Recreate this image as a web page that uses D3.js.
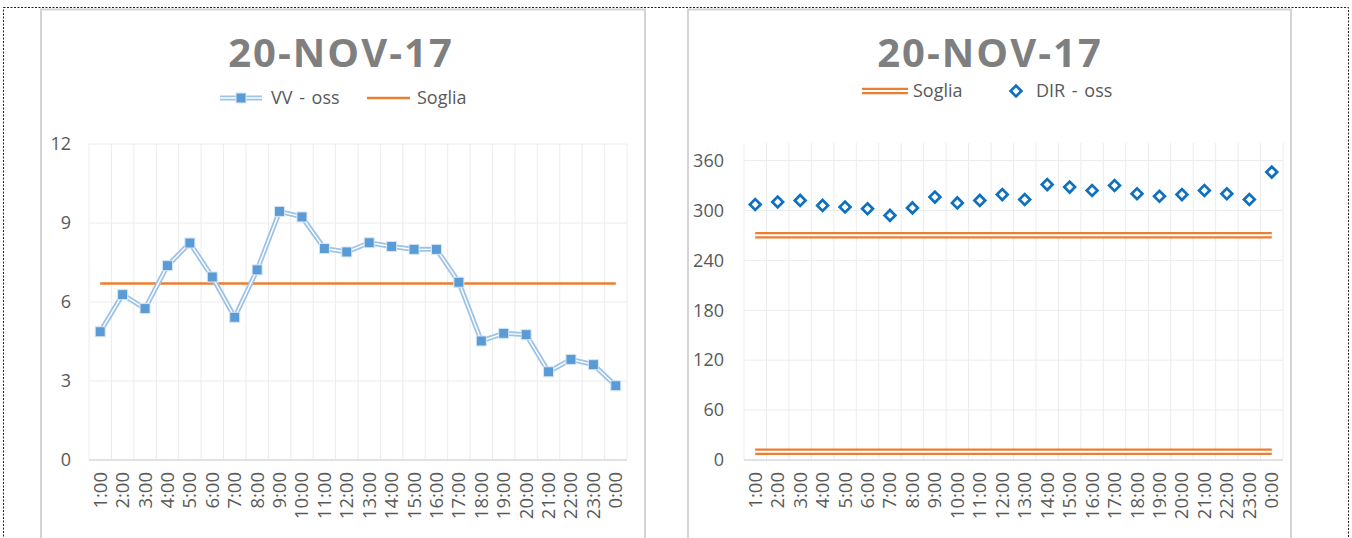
<!DOCTYPE html>
<html>
<head>
<meta charset="utf-8">
<script src="https://cdn.jsdelivr.net/npm/d3@7"></script>
<style>
  html, body { margin: 0; padding: 0; background: #fff; }
  svg { display: block; font-family: "Open Sans", sans-serif; }
</style>
</head>
<body>
<svg id="chart" width="1352" height="538"></svg>
<script>
// ---------- data ----------
const hours = ["1:00","2:00","3:00","4:00","5:00","6:00","7:00","8:00","9:00","10:00","11:00","12:00",
               "13:00","14:00","15:00","16:00","17:00","18:00","19:00","20:00","21:00","22:00","23:00","0:00"];
const vvOss = [4.87,6.28,5.75,7.38,8.24,6.95,5.42,7.22,9.44,9.23,8.03,7.90,
               8.25,8.11,8.00,8.00,6.75,4.52,4.81,4.76,3.35,3.82,3.62,2.82];
const sogliaVV = 6.7;
const dirOss = [307,310,312,306,304,302,294,303,316,309,312,319,
                313,331,328,324,330,320,317,319,324,320,313,346];
const sogliaDir = [270, 10];
const yTicksVV = [0,3,6,9,12];
const yTicksDir = [0,60,120,180,240,300,360];
const chartTitle = "20-NOV-17";
const legendVV = ["VV - oss", "Soglia"];
const legendDir = ["Soglia", "DIR - oss"];

// ---------- styles ----------
const textCol = "#595959";
const gridCol = "#ececec";
const blueLine = "#9dc3e6";
const blueMark = "#5b9bd5";
const orange = "#ed7d31";
const dirBlue = "#0f70c0";

const svg = d3.select("#chart");

// outer dashed frame
svg.append("rect").attr("x", 3.5).attr("y", 7.5).attr("width", 1345).attr("height", 540)
  .attr("fill", "none").attr("stroke", "#222").attr("stroke-width", 1).attr("stroke-dasharray", "2,1.5");

// panels
[[41, 645], [688, 1291]].forEach(([a, b]) => {
  svg.append("rect").attr("x", a).attr("y", 9.5).attr("width", b - a).attr("height", 540)
    .attr("fill", "#fff").attr("stroke", "#d4d4d4").attr("stroke-width", 2);
});

function drawFrame(g, x, y, ticks, labelX) {
  const [x0, x1] = x.range();
  const [yb, yt] = y.range();
  g.append("g").selectAll("line").data(ticks.filter(t => t > 0)).join("line")
    .attr("x1", x0).attr("x2", x1).attr("y1", d => y(d)).attr("y2", d => y(d))
    .attr("stroke", gridCol).attr("stroke-width", 1);
  const bounds = x.domain().map(d => x(d)).concat([x1]);
  g.append("g").selectAll("line").data(bounds).join("line")
    .attr("x1", d => d).attr("x2", d => d).attr("y1", yt).attr("y2", yb)
    .attr("stroke", gridCol).attr("stroke-width", 1);
  g.append("line").attr("x1", x0).attr("x2", x1).attr("y1", yb).attr("y2", yb)
    .attr("stroke", "#d9d9d9").attr("stroke-width", 1.5);
  const ya = g.append("g").attr("transform", `translate(${labelX},0)`)
    .call(d3.axisLeft(y).tickValues(ticks).tickSize(0).tickPadding(0));
  ya.select(".domain").remove();
  ya.selectAll("text").attr("fill", textCol).style("font-size", "18px").style("font-family", "Open Sans");
  const xa = g.append("g").attr("transform", `translate(0,${yb})`)
    .call(d3.axisBottom(x).tickSize(0));
  xa.select(".domain").remove();
  xa.selectAll("text")
    .attr("transform", "rotate(-90)")
    .attr("x", -12).attr("y", 0).attr("dy", "0.35em")
    .attr("text-anchor", "end")
    .attr("fill", textCol).style("font-size", "18.5px").style("font-family", "Open Sans");
}

function title(cx) {
  svg.append("text").attr("x", cx).attr("y", 67).attr("text-anchor", "middle")
    .attr("fill", "#7f7f7f").style("font-size", "40px").style("font-weight", "bold")
    .style("letter-spacing", "2px").text(chartTitle);
}

function legendText(g, x, t) {
  g.append("text").attr("x", x).attr("y", 0).attr("dy", "0.35em").attr("fill", textCol)
    .style("font-size", "18px").style("word-spacing", "2px").text(t);
}

// ---------- left chart ----------
{
  const g = svg.append("g");
  const x = d3.scaleBand().domain(hours).range([89, 627]);
  const y = d3.scaleLinear().domain([0, 12]).range([460, 144]);
  drawFrame(g, x, y, yTicksVV, 71);
  title(341);

  const cx = d => x(d) + x.bandwidth() / 2;
  g.append("line").attr("x1", cx(hours[0])).attr("x2", cx(hours[hours.length - 1]))
    .attr("y1", y(sogliaVV)).attr("y2", y(sogliaVV))
    .attr("stroke", orange).attr("stroke-width", 2.5);
  const line = d3.line().x((d, i) => cx(hours[i])).y(d => y(d));
  g.append("path").datum(vvOss).attr("d", line).attr("fill", "none")
    .attr("stroke", blueLine).attr("stroke-width", 5).attr("stroke-linejoin", "round");
  g.append("path").datum(vvOss).attr("d", line).attr("fill", "none")
    .attr("stroke", "#fff").attr("stroke-width", 1.4).attr("stroke-linejoin", "round");
  g.append("g").selectAll("rect").data(vvOss).join("rect")
    .attr("x", (d, i) => cx(hours[i]) - 5).attr("y", d => y(d) - 5)
    .attr("width", 10).attr("height", 10)
    .attr("fill", blueMark).attr("stroke", "#d6e6f5").attr("stroke-width", 1);

  const lg = svg.append("g").attr("transform", "translate(0,98)");
  lg.append("line").attr("x1", 220).attr("x2", 262).attr("y1", 0).attr("y2", 0)
    .attr("stroke", blueLine).attr("stroke-width", 5);
  lg.append("line").attr("x1", 220).attr("x2", 262).attr("y1", 0).attr("y2", 0)
    .attr("stroke", "#fff").attr("stroke-width", 1.4);
  lg.append("rect").attr("x", 236).attr("y", -5).attr("width", 10).attr("height", 10)
    .attr("fill", blueMark).attr("stroke", "#d6e6f5");
  legendText(lg, 271, legendVV[0]);
  lg.append("line").attr("x1", 367).attr("x2", 410).attr("y1", 0).attr("y2", 0)
    .attr("stroke", orange).attr("stroke-width", 2.5);
  legendText(lg, 417, legendVV[1]);
}

// ---------- right chart ----------
{
  const g = svg.append("g");
  const x = d3.scaleBand().domain(hours).range([744, 1283]);
  const y = d3.scaleLinear().domain([0, 381]).range([460, 143]);
  drawFrame(g, x, y, yTicksDir, 724);
  title(990);

  const cx = d => x(d) + x.bandwidth() / 2;
  sogliaDir.forEach(v => {
    g.append("line").attr("x1", cx(hours[0])).attr("x2", cx(hours[hours.length - 1]))
      .attr("y1", y(v)).attr("y2", y(v))
      .attr("stroke", orange).attr("stroke-width", 6.5);
    g.append("line").attr("x1", cx(hours[0])).attr("x2", cx(hours[hours.length - 1]))
      .attr("y1", y(v)).attr("y2", y(v))
      .attr("stroke", "#fff").attr("stroke-width", 2);
  });
  const sym = d3.symbol().type(d3.symbolSquare).size(58);
  g.append("g").selectAll("path").data(dirOss).join("path")
    .attr("d", sym)
    .attr("transform", (d, i) => `translate(${cx(hours[i])},${y(d)}) rotate(45)`)
    .attr("fill", "#fff").attr("stroke", dirBlue).attr("stroke-width", 2.7);

  const lg = svg.append("g").attr("transform", "translate(0,91)");
  lg.append("line").attr("x1", 862).attr("x2", 908).attr("y1", 0).attr("y2", 0)
    .attr("stroke", orange).attr("stroke-width", 6.5);
  lg.append("line").attr("x1", 862).attr("x2", 908).attr("y1", 0).attr("y2", 0)
    .attr("stroke", "#fff").attr("stroke-width", 2);
  legendText(lg, 913, legendDir[0]);
  lg.append("path").attr("d", sym).attr("transform", "translate(1016,0) rotate(45)")
    .attr("fill", "#fff").attr("stroke", dirBlue).attr("stroke-width", 2.7);
  legendText(lg, 1036, legendDir[1]);
}
</script>
</body>
</html>
